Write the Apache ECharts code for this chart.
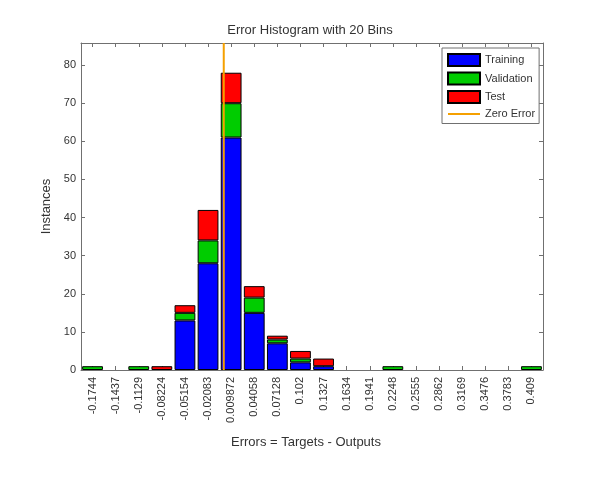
<!DOCTYPE html>
<html>
<head>
<meta charset="utf-8">
<script src="https://cdn.jsdelivr.net/npm/echarts@6/dist/echarts.min.js"></script>
<style>
  html, body { margin: 0; padding: 0; background: #ffffff; }
  #chart { width: 595px; height: 478px; }
</style>
</head>
<body>
<div id="chart"></div>
<script>
// Bin centres of the error histogram (tick labels on the x axis)
const binCenters = ['-0.1744', '-0.1437', '-0.1129', '-0.08224', '-0.05154', '-0.02083',
  '0.009872', '0.04058', '0.07128', '0.102', '0.1327', '0.1634', '0.1941', '0.2248',
  '0.2555', '0.2862', '0.3169', '0.3476', '0.3783', '0.409'];

// Instances per bin for each data split
const training   = [0, 0, 0, 0, 13, 28, 61, 15, 7, 2, 1, 0, 0, 0, 0, 0, 0, 0, 0, 0];
const validation = [1, 0, 1, 0, 2, 6, 9, 4, 1, 1, 0, 0, 0, 1, 0, 0, 0, 0, 0, 1];
const test       = [0, 0, 0, 1, 2, 8, 8, 3, 1, 2, 2, 0, 0, 0, 0, 0, 0, 0, 0, 0];

// Position of the zero-error reference line and the y-axis range
const zeroError = 0;
const yMax = 85.8;
const yInterval = 10;

// Continuous x range matching the category bins (half a bin beyond each end centre)
const first = parseFloat(binCenters[0]);
const last = parseFloat(binCenters[binCenters.length - 1]);
const binWidth = (last - first) / (binCenters.length - 1);

const FONT = "'Liberation Sans', Arial, Helvetica, sans-serif";
const TEXT = '#333333';
const FRAME = '#707070';
const ORANGE = '#f5a000';

const chart = echarts.init(document.getElementById('chart'), null, { renderer: 'canvas' });

const barStyle = (color) => ({ color: color, borderColor: '#000000', borderWidth: 1 });
// Empty segments are skipped so no outline is drawn for them
const segments = (counts) => counts.map((v) => (v === 0 ? '-' : v));

const frameLine = { show: true, onZero: false, lineStyle: { color: FRAME, width: 1 } };
const innerTicks = { show: true, inside: true, length: 4, lineStyle: { color: FRAME } };

chart.setOption({
  backgroundColor: '#ffffff',
  animation: false,
  textStyle: { fontFamily: FONT },
  title: {
    text: 'Error Histogram with 20 Bins',
    left: 305,
    textAlign: 'center',
    top: 19,
    textStyle: { fontFamily: FONT, fontSize: 13, fontWeight: 'normal', color: TEXT }
  },
  legend: {
    orient: 'vertical',
    left: 442,
    top: 48,
    padding: [5, 4, 4, 5],
    itemWidth: 32,
    itemHeight: 12,
    itemGap: 4.5,
    backgroundColor: '#ffffff',
    borderColor: FRAME,
    borderWidth: 1,
    borderRadius: 0,
    textStyle: { fontFamily: FONT, fontSize: 11, color: TEXT },
    data: [
      { name: 'Training', icon: 'rect' },
      { name: 'Validation', icon: 'rect' },
      { name: 'Test', icon: 'rect' },
      { name: 'Zero Error', itemStyle: { opacity: 0 } }
    ]
  },
  grid: { left: 81, right: 52, top: 43, bottom: 108, containLabel: false },
  xAxis: [
    {
      type: 'category',
      position: 'bottom',
      data: binCenters,
      name: 'Errors = Targets - Outputs',
      nameLocation: 'middle',
      nameGap: 66,
      nameTextStyle: { fontFamily: FONT, fontSize: 13, color: TEXT, padding: [0, 12, 0, 0] },
      axisLine: frameLine,
      axisTick: Object.assign({ alignWithLabel: true, interval: 0 }, innerTicks),
      axisLabel: { rotate: 90, fontFamily: FONT, fontSize: 11, color: TEXT, margin: 7, interval: 0 },
      splitLine: { show: false }
    },
    {
      type: 'category',
      position: 'top',
      data: binCenters,
      axisLine: frameLine,
      axisTick: Object.assign({ alignWithLabel: true, interval: 0 }, innerTicks),
      axisLabel: { show: false, interval: 0 },
      splitLine: { show: false }
    },
    {
      type: 'value',
      show: false,
      position: 'top',
      min: first - binWidth / 2,
      max: last + binWidth / 2,
      axisLine: { onZero: false },
      splitLine: { show: false }
    }
  ],
  yAxis: [
    {
      type: 'value',
      position: 'left',
      min: 0,
      max: yMax,
      interval: yInterval,
      name: 'Instances',
      nameLocation: 'middle',
      nameGap: 25,
      nameTextStyle: { fontFamily: FONT, fontSize: 13, color: TEXT },
      axisLine: frameLine,
      axisTick: innerTicks,
      axisLabel: { fontFamily: FONT, fontSize: 11, color: TEXT, margin: 5, showMaxLabel: false },
      splitLine: { show: false }
    },
    {
      type: 'value',
      position: 'right',
      min: 0,
      max: yMax,
      interval: yInterval,
      axisLine: frameLine,
      axisTick: innerTicks,
      axisLabel: { show: false },
      splitLine: { show: false }
    }
  ],
  series: [
    {
      name: 'Training', type: 'bar', stack: 'errors', xAxisIndex: 0, yAxisIndex: 0,
      barCategoryGap: '10%', itemStyle: barStyle('#0000ff'), data: segments(training)
    },
    {
      name: 'Validation', type: 'bar', stack: 'errors', xAxisIndex: 0, yAxisIndex: 0,
      barCategoryGap: '10%', itemStyle: barStyle('#00cc00'), data: segments(validation)
    },
    {
      name: 'Test', type: 'bar', stack: 'errors', xAxisIndex: 0, yAxisIndex: 0,
      barCategoryGap: '10%', itemStyle: barStyle('#ff0000'), data: segments(test)
    },
    {
      name: 'Zero Error', type: 'line', xAxisIndex: 2, yAxisIndex: 0,
      symbol: 'none', silent: true,
      itemStyle: { color: ORANGE },
      lineStyle: { color: ORANGE, width: 2 },
      data: [[zeroError, 0], [zeroError, yMax]]
    }
  ]
});
</script>
</body>
</html>
